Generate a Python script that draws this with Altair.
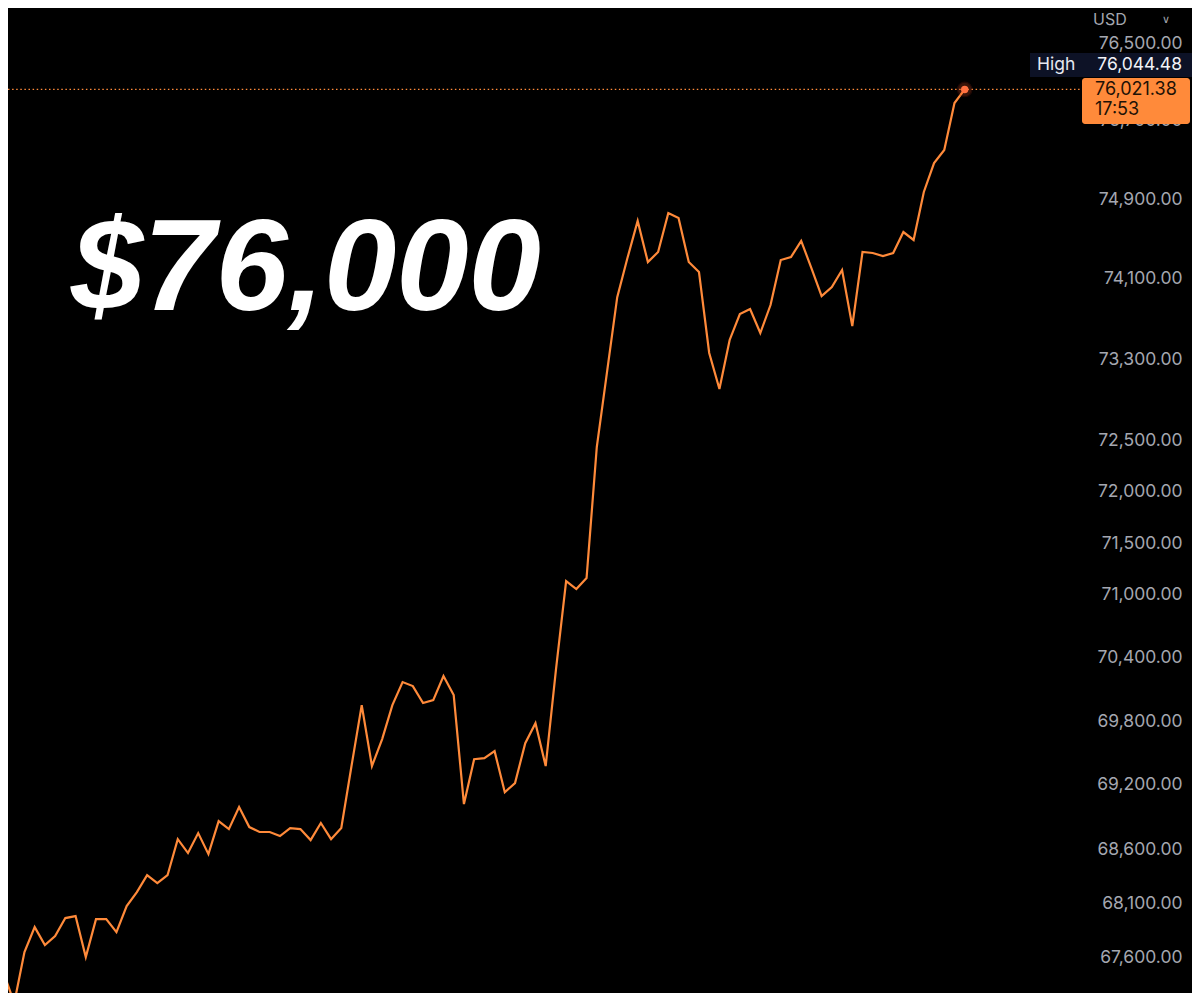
import altair as alt
import pandas as pd

# ---- data (one value per bar, last = live price) ----
prices = [
    67307, 67453, 67190, 67654, 67883, 67718, 67800, 67966, 67984, 67608,
    67956, 67956, 67837, 68076, 68204, 68361, 68288, 68361, 68695, 68566,
    68751, 68556, 68863, 68788, 68993, 68807, 68761, 68761, 68723, 68798,
    68788, 68686, 68845, 68695, 68798, 69377, 69951, 69377, 69630, 69951,
    70169, 70131, 69970, 69998, 70226, 70046, 69021, 69441, 69451, 69517,
    69132, 69217, 69592, 69780, 69377, 70283, 71134, 71057, 71162, 72433,
    73172, 73917, 74308, 74682, 74268, 74369, 74762, 74711, 74268, 74168,
    73361, 73004, 73490, 73748, 73798, 73559, 73838, 74288, 74318, 74480,
    74208, 73928, 74018, 74188, 73628, 74369, 74359, 74328, 74359, 74570,
    74490, 74975, 75269, 75401, 75882, 76021.38,
]
bars = list(range(len(prices)))
tick_values = [76500, 75700, 74900, 74100, 73300, 72500, 72000, 71500,
               71000, 70400, 69800, 69200, 68600, 68100, 67600]
last_price = prices[-1]
high_price = 76044.48
countdown = "17:53"
headline = "$76,000"
currency = "USD"

ORANGE = "#ff8a3a"
AXIS_GREY = "#a4a7b0"
W, H = 1184, 985

df = pd.DataFrame({"bar": bars, "price": prices})
last_df = pd.DataFrame({"bar": [bars[-1]], "price": [last_price]})

x_scale = alt.Scale(domain=[1.389, 117.24], nice=False, zero=False)
y_scale = alt.Scale(type="log", domain=[67280.9, 76862.8], nice=False, zero=False)

line = alt.Chart(df).mark_line(color=ORANGE, strokeWidth=2.2, clip=True,
                               strokeJoin="miter").encode(
    x=alt.X("bar:Q", scale=x_scale, axis=None),
    y=alt.Y("price:Q", scale=y_scale,
            axis=alt.Axis(orient="right", values=tick_values, format=",.2f",
                          offset=-10, labelAlign="right", labelPadding=0,
                          ticks=False, tickSize=0, domain=False, grid=False,
                          labelColor=AXIS_GREY, labelFont="Inter",
                          labelFontSize=17.5, labelOverlap=False,
                          labelFlush=False, title=None)),
)

price_rule = alt.Chart(last_df).mark_rule(
    color=ORANGE, strokeWidth=1.2, strokeDash=[1.5, 2.6]
).encode(
    y=alt.Y("price:Q", scale=y_scale),
    x=alt.value(0), x2=alt.value(1074),
)

halo = alt.Chart(last_df).mark_circle(
    size=210, color="#ff5a2a", opacity=0.22, stroke="#8a2414", strokeWidth=1.2,
    strokeOpacity=1,
).encode(x=alt.X("bar:Q", scale=x_scale), y=alt.Y("price:Q", scale=y_scale))

dot = alt.Chart(last_df).mark_circle(size=55, color="#ff7040", opacity=1).encode(
    x=alt.X("bar:Q", scale=x_scale), y=alt.Y("price:Q", scale=y_scale))

one = pd.DataFrame({"k": [0]})

title_text = alt.Chart(one).mark_text(
    text=headline, font="Liberation Sans", fontSize=130, fontWeight="bold",
    fontStyle="italic", color="white", align="left", baseline="alphabetic",
).encode(x=alt.value(63), y=alt.value(302))

high_box = alt.Chart(one).mark_rect(color="#0d1226").encode(
    x=alt.value(1022), x2=alt.value(1184), y=alt.value(45), y2=alt.value(69))
high_lbl = alt.Chart(one).mark_text(
    text="High", font="Inter", fontSize=17.5, color="#e6e8f0",
    align="left", baseline="middle",
).encode(x=alt.value(1029), y=alt.value(57))
high_val = alt.Chart(pd.DataFrame({"v": [high_price]})).mark_text(
    font="Inter", fontSize=17.5, color="#f2f3f7", align="right",
    baseline="middle",
).encode(x=alt.value(1174), y=alt.value(57), text=alt.Text("v:Q", format=",.2f"))

price_box = alt.Chart(one).mark_rect(color=ORANGE, cornerRadius=3).encode(
    x=alt.value(1074), x2=alt.value(1182), y=alt.value(70), y2=alt.value(116))
price_txt = alt.Chart(last_df).mark_text(
    font="Inter", fontSize=18, color="#1e1206", align="left", baseline="middle",
).encode(x=alt.value(1087), y=alt.value(82), text=alt.Text("price:Q", format=",.2f"))
count_txt = alt.Chart(one).mark_text(
    text=countdown, font="Inter", fontSize=18, color="#1e1206",
    align="left", baseline="middle",
).encode(x=alt.value(1087), y=alt.value(102))

usd_txt = alt.Chart(one).mark_text(
    text=currency, font="Inter", fontSize=16, color=AXIS_GREY,
    align="left", baseline="top",
).encode(x=alt.value(1085), y=alt.value(4))
chev = alt.Chart(one).mark_text(
    text="∨", font="DejaVu Sans", fontSize=11, color=AXIS_GREY,
    align="center", baseline="top",
).encode(x=alt.value(1158), y=alt.value(6))

chart = alt.layer(
    line, price_rule, halo, dot, title_text, high_box, high_lbl, high_val,
    price_box, price_txt, count_txt, usd_txt, chev,
).properties(
    width=W, height=H, background="black", padding=0,
    autosize=alt.AutoSizeParams(type="none"),
).configure_view(stroke=None)

chart.save("out.html", embed_options={"renderer": "svg", "actions": False})
